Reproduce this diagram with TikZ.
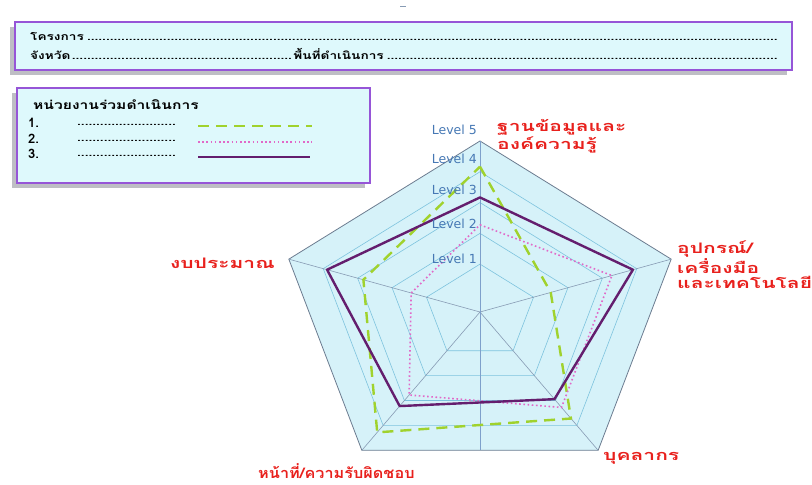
\documentclass[tikz,border=0pt]{standalone}
\usepackage{fontspec}
\setmainfont{DejaVu Sans}
\newfontfamily\thaifont[Script=Thai]{Loma}
\newfontfamily\thaiwide[Script=Thai, FakeStretch=1.45]{Loma}
\newfontfamily\thaimid[Script=Thai, FakeStretch=1.12]{Loma}
\newfontfamily\thaibox[Script=Thai, FakeStretch=1.3]{Loma}
\usepackage{xcolor}

\definecolor{boxfill}{RGB}{222,249,252}
\definecolor{boxline}{RGB}{150,85,215}
\definecolor{shadowgray}{RGB}{190,190,196}
\definecolor{radarfill}{RGB}{214,242,249}
\definecolor{ringblue}{RGB}{125,195,222}
\definecolor{spokegray}{RGB}{135,155,180}
\definecolor{levelblue}{RGB}{70,120,180}
\definecolor{labelred}{RGB}{232,32,28}
\definecolor{greenline}{RGB}{160,210,45}
\definecolor{pinkline}{RGB}{225,105,200}
\definecolor{purpleline}{RGB}{100,30,110}

\newcommand{\dotleader}{\leaders\hbox{.}\hfill}

\tikzset{
  infobox/.style={draw=boxline, line width=1.6pt, fill=boxfill},
  boxshadow/.style={fill=shadowgray},
  boxtext/.style={inner sep=0pt, anchor=west, font=\thaibox\bfseries\fontsize{10.5}{12}\selectfont},
  axislabel/.style={inner sep=0pt, text=labelred, align=left, font=\thaiwide\bfseries\fontsize{14.5}{15}\selectfont},
  levellabel/.style={inner sep=0pt, anchor=east, text=levelblue, font=\fontsize{12.5}{14}\selectfont},
  ringline/.style={draw=ringblue, line width=0.6pt},
  spokeline/.style={draw=spokegray, line width=0.6pt},
  series1/.style={greenline, line width=2.4pt, dash pattern=on 11pt off 7pt},
  series2/.style={pinkline, line width=1.6pt, dash pattern=on 1.6pt off 2.6pt},
  series3/.style={purpleline, line width=2.4pt, line join=round}
}

\begin{document}
\begin{tikzpicture}[x=1pt, y=1pt]
  \useasboundingbox (0,0) rectangle (812,485);

  % Small mark at the top
  \draw[spokegray, line width=0.8pt] (400,479) -- (406,479);

  % Project box
  \fill[boxshadow] (10,410) rectangle (787,458);
  \draw[infobox] (15,415) rectangle (792,463);
  \node[boxtext] (project) at (30,448)
    {\makebox[750pt][l]{โครงการ\dotleader}};
  \node[boxtext] (province) at (30,431)
    {\makebox[750pt][l]{\makebox[263pt][l]{จังหวัด\dotleader}พื้นที่ดำเนินการ\dotleader}};

  % Partner box
  \fill[boxshadow] (12,297) rectangle (365,392);
  \draw[infobox] (17,302) rectangle (370,397);
  \node[boxtext, font=\thaibox\bfseries\fontsize{12}{13}\selectfont] (partners) at (33,380) {หน่วยงานร่วมดำเนินการ};
  \node[boxtext, font=\thaifont\bfseries\fontsize{13}{14}\selectfont] (one) at (28,362) {1.};
  \node[boxtext, font=\thaifont\bfseries\fontsize{13}{14}\selectfont] (two) at (28,346) {2.};
  \node[boxtext, font=\thaifont\bfseries\fontsize{13}{14}\selectfont] (three) at (28,331) {3.};
  \node[boxtext] (dotsone) at (77,360) {\makebox[100pt]{\dotleader}};
  \node[boxtext] (dotstwo) at (77,344) {\makebox[100pt]{\dotleader}};
  \node[boxtext] (dotsthree) at (77,329) {\makebox[100pt]{\dotleader}};
  \draw[series1] (198,359) -- (312,359);
  \draw[series2] (198,343) -- (312,343);
  \draw[series3] (198,328) -- (310,328);

  % Radar chart
  \begin{scope}[shift={(480,173)}, x=201pt, y=171pt]
    \coordinate (O) at (0,0);
    % Outer pentagon
    \draw[draw=spokegray!80!black, line width=0.8pt, fill=radarfill]
      (90:1) -- (18:1) -- (-54:1) -- (-126:1) -- (162:1) -- cycle;
    % Level rings
    \foreach \r in {0.28,0.46,0.64,0.82}
      \draw[ringline] (90:\r) -- (18:\r) -- (-54:\r) -- (-126:\r) -- (162:\r) -- cycle;
    % Spokes
    \foreach \a in {18,-54,-126,162}
      \draw[spokeline] (O) -- (\a:1);
    \draw[draw=levelblue!70, line width=0.7pt] (90:1) -- (0,-0.809);

    % Data
    \draw[series1] (90:0.85) -- (18:0.37) -- (-54:0.77) -- (-126:0.87) -- (162:0.61) -- cycle;
    \draw[series2] (90:0.51) -- (18:0.69) -- (-54:0.69) -- (-126:0.60) -- (162:0.36) -- cycle;
    \draw[series3] (90:0.67) -- (18:0.80) -- (-54:0.63) -- (-126:0.68) -- (162:0.80) -- cycle;
  \end{scope}

  % Level labels
  \node[levellabel] (lev5) at (477,355) {Level 5};
  \node[levellabel] (lev4) at (477,326) {Level 4};
  \node[levellabel] (lev3) at (477,295) {Level 3};
  \node[levellabel] (lev2) at (477,261) {Level 2};
  \node[levellabel] (lev1) at (477,226) {Level 1};

  % Axis labels
  \node[axislabel, anchor=west] (database) at (497,349) {ฐานข้อมูลและ\\องค์ความรู้};
  \node[axislabel, anchor=west] (tools) at (677,220) {อุปกรณ์/\\เครื่องมือ\\และเทคโนโลยี};
  \node[axislabel, anchor=west] (staff) at (603,27) {บุคลากร};
  \node[axislabel, anchor=west, font=\thaimid\bfseries\fontsize{14.5}{15}\selectfont] (duty) at (258,14) {หน้าที่/ความรับผิดชอบ};
  \node[axislabel, anchor=east] (budget) at (275,222) {งบประมาณ};
\end{tikzpicture}
\end{document}
